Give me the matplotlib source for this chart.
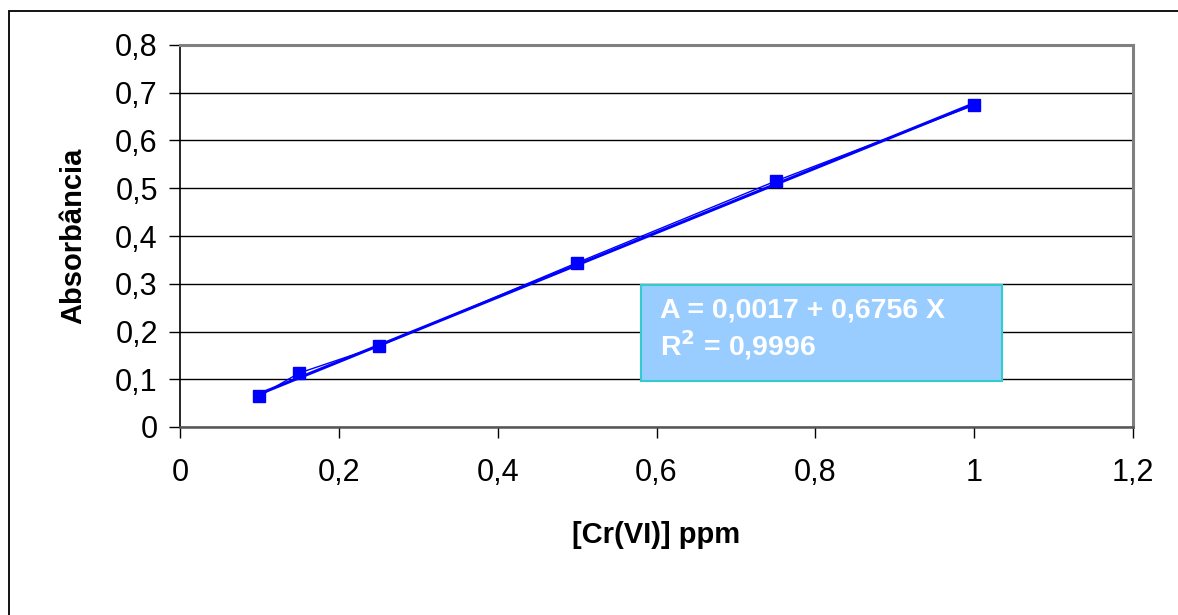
import matplotlib.pyplot as plt
from matplotlib.patches import Rectangle
from matplotlib.ticker import FuncFormatter
import numpy as np

plt.rcParams['font.family'] = ['Liberation Sans', 'DejaVu Sans']

conc = [0.1, 0.15, 0.25, 0.5, 0.75, 1.0]
absorb = [0.065, 0.113, 0.169, 0.344, 0.515, 0.674]

# linear fit reported on the chart
intercept = 0.0017
slope = 0.6756
r2 = 0.9996

fig = plt.figure(figsize=(11.78, 6.15), dpi=100)
fig.patches.append(Rectangle((9 / 1178, -0.1), 1.2, (615 - 11) / 615 + 0.1,
                             transform=fig.transFigure, fill=False,
                             edgecolor='black', linewidth=1.3))

ax = fig.add_axes([180 / 1178, (615 - 427) / 615, (1133 - 180) / 1178, (427 - 45) / 615])

ax.plot(conc, absorb, color='#0000FF', linewidth=1, marker='s', markersize=8.5, zorder=4)
xfit = np.array([min(conc), max(conc)])
ax.plot(xfit, intercept + slope * xfit, color='#0000FF', linewidth=2.2, zorder=3)

ax.set_xlim(0, 1.2)
ax.set_ylim(0, 0.8)
ax.set_xticks(np.arange(0, 1.21, 0.2))
ax.set_yticks(np.arange(0, 0.81, 0.1))
comma = FuncFormatter(lambda v, p: ('%g' % round(v, 2)).replace('.', ','))
ax.xaxis.set_major_formatter(comma)
ax.yaxis.set_major_formatter(comma)
ax.yaxis.grid(True, color='black', linewidth=1)
ax.set_axisbelow(True)

for side in ['top', 'right']:
    ax.spines[side].set_color('#808080')
    ax.spines[side].set_linewidth(2.2)
ax.spines['left'].set_color('black')
ax.spines['left'].set_linewidth(1.2)
ax.spines['bottom'].set_color('#555555')
ax.spines['bottom'].set_linewidth(1.8)

ax.tick_params(direction='out', length=8, width=1, labelsize=22, colors='black', pad=8)
ax.tick_params(axis='x', pad=14)

ax.set_xlabel('[Cr(VI)] ppm', fontsize=21, fontweight='bold', labelpad=24)
ax.set_ylabel('Absorbância', fontsize=21, fontweight='bold', labelpad=20)

box = Rectangle((0.58, 0.096), 0.455, 0.201, facecolor='#99CCFF', edgecolor='#33CCCC',
                linewidth=1.5, zorder=5)
ax.add_patch(box)
ax.text(0.605, 0.245, 'A = 0,0017 + 0,6756 X', color='white', fontsize=20.5,
        fontweight='bold', va='center', ha='left', zorder=6)
ax.text(0.605, 0.172, 'R$^{\\mathbf{2}}$ = 0,9996', color='white', fontsize=20.5,
        fontweight='bold', va='center', ha='left', zorder=6)

fig.savefig('out.png', dpi=100)
